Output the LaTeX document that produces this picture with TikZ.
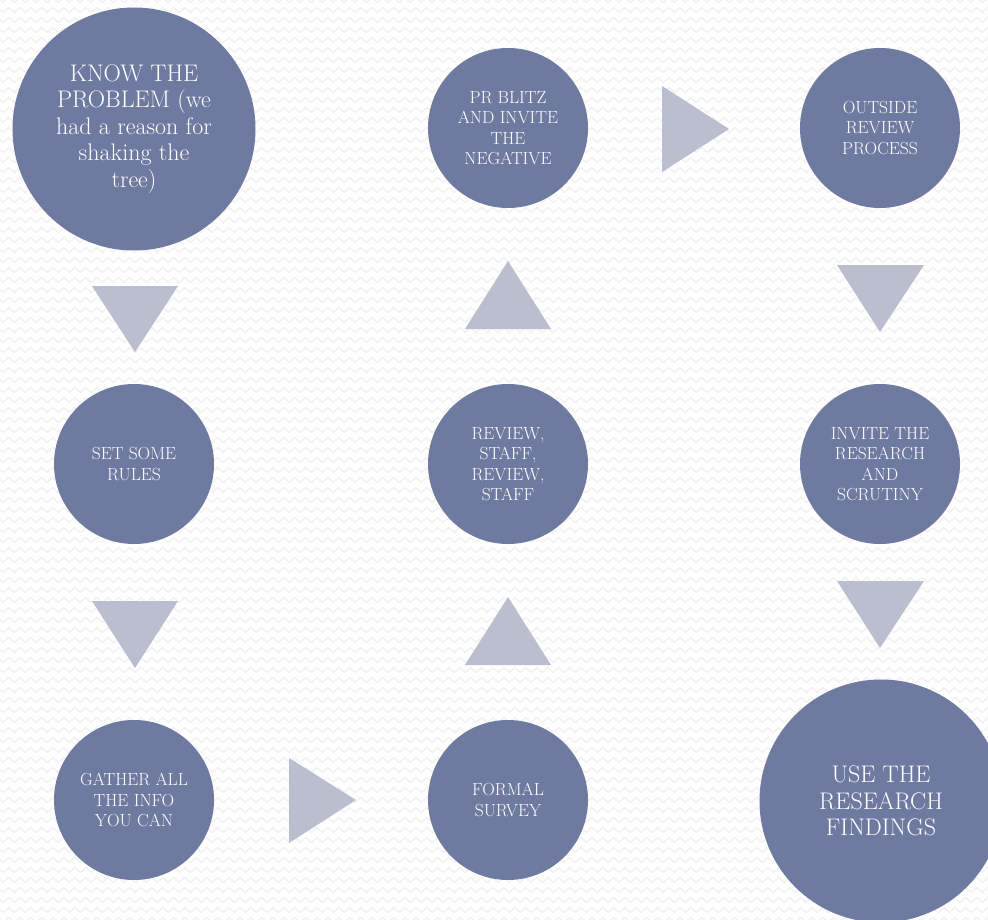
\documentclass[tikz,border=0pt]{standalone}
\usetikzlibrary{decorations.pathmorphing}
\definecolor{circfill}{RGB}{110,122,160}
\definecolor{trifill}{RGB}{186,190,207}
\definecolor{bgwave}{RGB}{241,241,241}
\begin{document}
\begin{tikzpicture}[x=1pt,y=-1pt,
  stepsmall/.style={circle,fill=circfill,minimum size=160pt,inner sep=0pt,align=center,text=white,font=\fontsize{17.5}{20.4}\selectfont},
  stepbig/.style={circle,fill=circfill,minimum size=243pt,inner sep=0pt,align=center,text=white,font=\fontsize{24}{26.6}\selectfont},
  tri/.style={fill=trifill},
  wave/.style={draw=bgwave,line width=1.3pt,decorate,decoration={zigzag,segment length=11pt,amplitude=2.5pt}}]
\useasboundingbox (0,0) rectangle (988,920);
\fill[white] (0,0) rectangle (988,920);
\begin{scope}
\clip (0,0) rectangle (988,920);
\foreach \r in {0,10,...,920}{
  \draw[wave] (-5,\r) -- (1000,\r);
}
\end{scope}
% circles
\node[stepbig] (know) at (134,129) {KNOW THE\\PROBLEM (we\\had a reason for\\shaking the\\tree)};
\node[stepsmall] (rules) at (134,464) {SET SOME\\RULES};
\node[stepsmall] (gather) at (134,800) {GATHER ALL\\THE INFO\\YOU CAN};
\node[stepsmall] (survey) at (508,800) {FORMAL\\SURVEY};
\node[stepsmall] (review) at (508,464) {REVIEW,\\STAFF,\\REVIEW,\\STAFF};
\node[stepsmall] (blitz) at (508,128) {PR BLITZ\\AND INVITE\\THE\\NEGATIVE};
\node[stepsmall] (outside) at (880,128) {OUTSIDE\\REVIEW\\PROCESS};
\node[stepsmall] (invite) at (880,464) {INVITE THE\\RESEARCH\\AND\\SCRUTINY};
\node[stepbig] (use) at (881,801) {USE THE\\RESEARCH\\FINDINGS};
% triangles
\fill[tri] (92,286) -- (178,286) -- (135,352) -- cycle;
\fill[tri] (92,601) -- (178,601) -- (135,668) -- cycle;
\fill[tri] (289,758) -- (289,843) -- (356,800) -- cycle;
\fill[tri] (465,665) -- (551,665) -- (508,597) -- cycle;
\fill[tri] (465,329) -- (551,329) -- (508,261) -- cycle;
\fill[tri] (662,86) -- (662,172) -- (729,129) -- cycle;
\fill[tri] (837,265) -- (924,265) -- (880,332) -- cycle;
\fill[tri] (837,581) -- (924,581) -- (880,648) -- cycle;
\end{tikzpicture}
\end{document}
